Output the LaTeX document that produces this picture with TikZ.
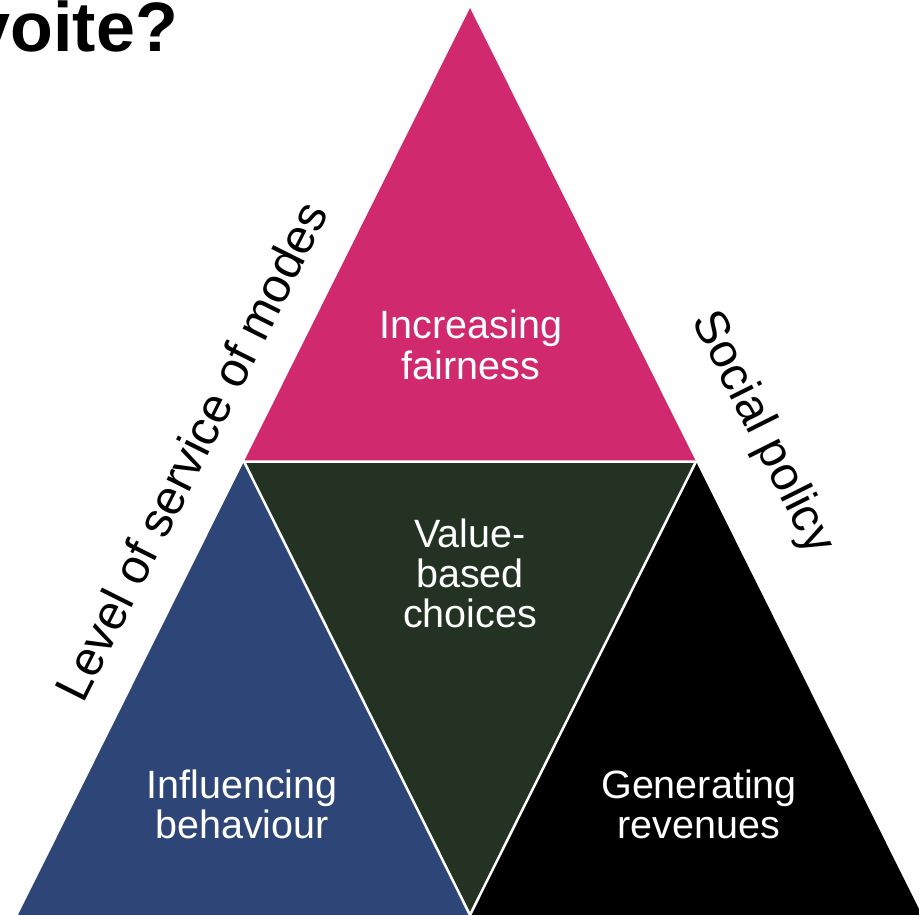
\documentclass[tikz,border=0pt]{standalone}
\usepackage{fontspec}
\setmainfont{Liberation Sans}
\definecolor{pinkc}{RGB}{208,41,110}
\definecolor{bluec}{RGB}{46,69,119}
\definecolor{greenc}{RGB}{36,50,35}
\tikzset{
  intext/.style={text=white, anchor=base, inner sep=0pt, font=\fontsize{39.5}{42}\selectfont},
  sidelabel/.style={text=black, anchor=center, inner sep=0pt, font=\fontsize{48.5}{52}\selectfont},
  sep/.style={draw=white, line width=2.5pt, line join=miter}
}
\begin{document}
\begin{tikzpicture}[x=1pt,y=-1pt]
\useasboundingbox (0,0) rectangle (919,915);
\clip (0,0) rectangle (919,915);
\coordinate (A) at (470,8);
\coordinate (BL) at (18,915);
\coordinate (BR) at (922,915);
\coordinate (ML) at (244,461.5);
\coordinate (MR) at (696,461.5);
\coordinate (MB) at (470,915);
% triangles
\fill[pinkc] (A) -- (ML) -- (MR) -- cycle;
\fill[bluec] (ML) -- (BL) -- (MB) -- cycle;
\fill[black] (MR) -- (MB) -- (BR) -- cycle;
\fill[greenc] (ML) -- (MR) -- (MB) -- cycle;
\draw[sep] (ML) -- (MR) -- (MB) -- cycle;
% title
\node[anchor=base east, inner sep=0pt, font=\fontsize{70}{80}\selectfont\bfseries] (title) at (178,52) {voite?};
% inner texts
\node[intext] (t1a) at (471,338) {Increasing};
\node[intext] (t1b) at (471,379) {fairness};
\node[intext] (t2a) at (470,547) {Value-};
\node[intext] (t2b) at (470,587) {based};
\node[intext] (t2c) at (470,627) {choices};
\node[intext] (t3a) at (242,798) {Influencing};
\node[intext] (t3b) at (242,838) {behaviour};
\node[intext] (t4a) at (699,798) {Generating};
\node[intext] (t4b) at (699,838) {revenues};
% side labels
\node[sidelabel, rotate=63.4] (lleft) at (191,451) {Level of service of modes};
\node[sidelabel, rotate=-63.4, font=\fontsize{47.5}{50}\selectfont] (lright) at (762,433) {Social policy};
\end{tikzpicture}
\end{document}
